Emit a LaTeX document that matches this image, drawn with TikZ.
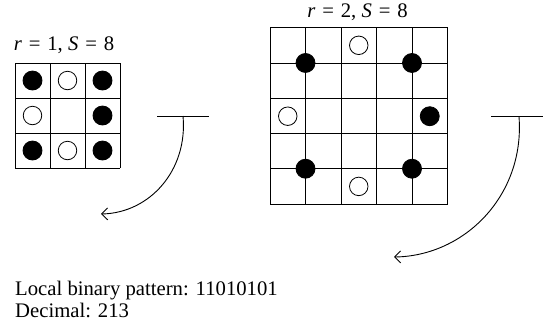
\documentclass[tikz,border=0pt]{standalone}
\usepackage{fontspec}
\setmainfont{Liberation Serif}
\usetikzlibrary{arrows.meta}
\begin{document}
\begin{tikzpicture}[x={(1pt,0)},y={(0,-1pt)},
  gridline/.style={draw=black,line width=0.9pt},
  fulldot/.style={circle,fill=black,draw=black,line width=0.8pt,minimum size=19pt,inner sep=0pt},
  emptydot/.style={circle,fill=white,draw=black,line width=0.8pt,minimum size=18.5pt,inner sep=0pt},
  lbl/.style={font=\fontsize{20.7}{23}\selectfont,inner sep=0pt},
  bar/.style={draw=black,line width=0.9pt},
  curvedarrow/.style={draw=black,line width=0.9pt,-{Straight Barb[length=6pt,width=12pt]}}]
\useasboundingbox (0,0) rectangle (543,325);
% small grid
\foreach \i in {0,...,3} {
  \draw[gridline] (15+35*\i,63) -- (15+35*\i,168);
  \draw[gridline] (15,63+35*\i) -- (120,63+35*\i);
}
\node[lbl,anchor=base] (l1) at (64,50.5) {\textit{r}\,\,=\,\,1, \textit{S}\,\,=\,\,8};
\node[fulldot] (a1) at (32.5,80.5) {};
\node[emptydot] (a2) at (67.5,80.5) {};
\node[fulldot] (a3) at (102.5,80.5) {};
\node[emptydot] (a4) at (32.5,115.5) {};
\node[fulldot] (a5) at (102.5,115.5) {};
\node[fulldot] (a6) at (32.5,150.5) {};
\node[emptydot] (a7) at (67.5,150.5) {};
\node[fulldot] (a8) at (102.5,150.5) {};
% large grid
\foreach \i in {0,...,5} {
  \draw[gridline] (270+35.5*\i,27.7) -- (270+35.5*\i,204);
  \draw[gridline] (270,27.7+35.26*\i) -- (447.5,27.7+35.26*\i);
}
\node[lbl,anchor=base] (l2) at (357.5,17.3) {\textit{r}\,\,=\,\,2, \textit{S}\,\,=\,\,8};
\node[fulldot] (b1) at (305.5,62.96) {};
\node[emptydot] (b2) at (358.75,45.3) {};
\node[fulldot] (b3) at (412,62.96) {};
\node[emptydot] (b4) at (287.75,116.2) {};
\node[fulldot] (b5) at (429.75,116.2) {};
\node[fulldot] (b6) at (305.5,168.7) {};
\node[emptydot] (b7) at (358.75,186.4) {};
\node[fulldot] (b8) at (412,168.7) {};
% bars and arrows
\coordinate (p1a) at (157,116);
\coordinate (p1b) at (209,116);
\coordinate (s1) at (183,116);
\coordinate (e1) at (101,214);
\draw[bar] (p1a) -- (p1b);
\draw[curvedarrow] (s1) .. controls (188,170) and (150,213) .. (e1);
\coordinate (p2a) at (491,116.7);
\coordinate (p2b) at (543,116.7);
\coordinate (s2) at (519,116.7);
\coordinate (e2) at (394,257);
\draw[bar] (p2a) -- (p2b);
\draw[curvedarrow] (s2) .. controls (525,195) and (465,256) .. (e2);
% text
\node[lbl,anchor=base west] (t1) at (15,295) {Local binary pattern: 11010101};
\node[lbl,anchor=base west] (t2) at (15,317.7) {Decimal: 213};
\end{tikzpicture}
\end{document}
